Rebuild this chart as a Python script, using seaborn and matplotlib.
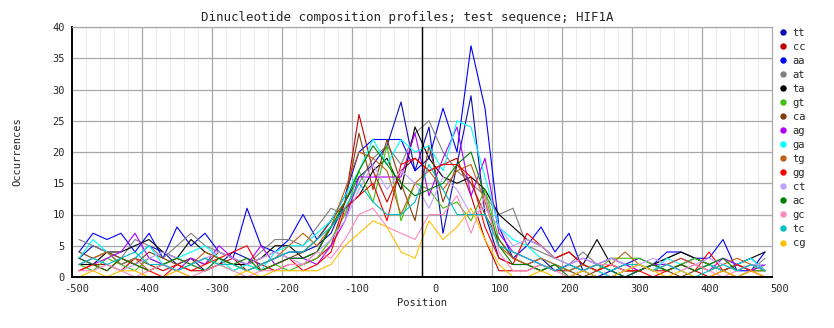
import numpy as np
import pandas as pd
import matplotlib
matplotlib.use("Agg")
import matplotlib.pyplot as plt
import matplotlib.transforms as mtransforms
from matplotlib.lines import Line2D
import seaborn as sns

# ---------------- data ----------------
positions = list(range(-490, 491, 20))  # 50 window centres

dinucs = ["tt", "cc", "aa", "at", "ta", "gt", "ca", "ag",
          "ga", "tg", "gg", "ct", "ac", "gc", "tc", "cg"]

colors = ["#0c0cb4", "#c00000", "#0000ff", "#808080", "#000000", "#40c010",
          "#804010", "#b000ff", "#00ffff", "#c06010", "#ff0000", "#c0a0ff",
          "#008000", "#ff88c0", "#00c0c0", "#ffc000"]

tt = [3, 5, 4, 2, 3, 5, 4, 2, 3, 1, 2, 4, 3, 2, 3, 4,
      4, 5, 7, 12, 16, 18, 21, 28, 17, 24, 7, 18, 29, 10, 3, 2,
      2, 3, 1, 2, 1, 0, 1, 2, 3, 2, 1, 2, 3, 2, 1, 2, 3, 1]
cc = [1, 2, 2, 1, 3, 2, 1, 2, 1, 1, 2, 3, 1, 2, 1, 2,
      2, 3, 5, 12, 26, 17, 12, 17, 19, 17, 18, 19, 13, 6, 1, 1,
      1, 2, 1, 1, 2, 1, 0, 1, 2, 1, 1, 2, 1, 0, 1, 2, 1, 1]
aa = [4, 7, 6, 7, 4, 7, 3, 8, 5, 7, 4, 3, 11, 5, 4, 6,
      10, 6, 9, 13, 20, 22, 22, 22, 17, 19, 27, 20, 37, 27, 8, 3,
      5, 8, 4, 7, 1, 2, 1, 0, 1, 2, 4, 4, 3, 3, 6, 1, 1, 4]
at = [6, 5, 4, 3, 6, 5, 3, 5, 7, 5, 4, 3, 2, 4, 6, 6,
      5, 8, 11, 10, 15, 19, 21, 18, 23, 25, 20, 17, 15, 13, 10, 11,
      5, 4, 3, 2, 4, 2, 3, 2, 1, 2, 3, 4, 3, 2, 3, 2, 1, 3]
ta = [2, 2, 4, 4, 5, 6, 4, 3, 6, 4, 3, 2, 2, 3, 5, 5,
      3, 4, 8, 11, 13, 17, 19, 14, 24, 19, 16, 15, 16, 14, 10, 8,
      6, 5, 3, 4, 2, 6, 2, 1, 1, 2, 3, 4, 3, 2, 1, 2, 3, 4]
gt = [2, 1, 3, 2, 1, 3, 2, 1, 2, 3, 2, 1, 2, 1, 2, 1,
      2, 3, 6, 10, 17, 12, 21, 9, 15, 14, 11, 12, 9, 14, 6, 3,
      2, 1, 2, 1, 2, 1, 3, 3, 3, 2, 1, 2, 3, 2, 1, 2, 1, 1]
ca = [4, 3, 4, 3, 2, 4, 3, 2, 3, 2, 4, 3, 2, 3, 4, 3,
      4, 6, 9, 12, 23, 14, 22, 15, 9, 21, 12, 18, 15, 10, 6, 3,
      2, 1, 2, 1, 0, 1, 2, 1, 1, 2, 1, 0, 1, 2, 1, 0, 1, 2]
ag = [3, 2, 3, 4, 7, 3, 2, 1, 3, 2, 5, 3, 2, 5, 2, 3,
      3, 2, 5, 9, 16, 16, 16, 16, 23, 13, 19, 24, 13, 19, 7, 4,
      3, 2, 1, 2, 3, 2, 3, 2, 1, 2, 2, 3, 2, 1, 3, 2, 1, 2]
ga = [3, 6, 4, 2, 3, 5, 2, 3, 4, 5, 3, 1, 2, 1, 4, 5,
      5, 7, 9, 13, 17, 22, 18, 22, 20, 21, 17, 25, 24, 16, 8, 6,
      5, 3, 2, 1, 2, 1, 0, 1, 2, 1, 3, 2, 1, 2, 1, 2, 3, 1]
tg = [2, 3, 4, 2, 3, 1, 2, 3, 2, 4, 3, 2, 1, 2, 3, 5,
      7, 5, 8, 14, 20, 19, 17, 10, 15, 17, 14, 17, 18, 12, 5, 3,
      2, 3, 2, 1, 2, 1, 2, 4, 2, 1, 2, 3, 2, 1, 2, 3, 2, 1]
gg = [1, 2, 1, 3, 2, 1, 0, 2, 1, 2, 3, 4, 5, 1, 2, 3,
      1, 2, 4, 11, 13, 15, 9, 18, 19, 17, 18, 18, 16, 8, 3, 2,
      7, 5, 3, 4, 2, 1, 2, 1, 1, 0, 1, 2, 1, 4, 1, 2, 1, 0]
ct = [2, 3, 2, 1, 2, 3, 4, 3, 2, 3, 4, 3, 2, 3, 4, 3,
      2, 4, 6, 9, 14, 18, 14, 17, 15, 11, 16, 14, 10, 11, 8, 5,
      6, 5, 3, 2, 3, 2, 3, 2, 2, 3, 2, 1, 2, 3, 2, 1, 2, 2]
ac = [3, 2, 1, 3, 2, 1, 2, 3, 2, 1, 3, 2, 3, 1, 2, 3,
      3, 4, 8, 12, 17, 21, 18, 15, 13, 14, 15, 18, 20, 13, 5, 2,
      2, 1, 2, 0, 1, 2, 1, 0, 1, 2, 1, 2, 1, 2, 3, 1, 2, 1]
gc = [1, 1, 2, 1, 0, 1, 2, 1, 0, 1, 2, 1, 0, 1, 1, 2,
      2, 4, 3, 6, 10, 11, 8, 7, 6, 10, 10, 13, 7, 13, 4, 1,
      1, 2, 1, 0, 1, 2, 2, 1, 2, 1, 2, 1, 2, 1, 0, 1, 2, 1]
tc = [2, 3, 2, 3, 4, 2, 2, 1, 2, 3, 2, 2, 1, 2, 3, 4,
      4, 6, 8, 11, 15, 12, 10, 10, 12, 18, 14, 10, 10, 10, 5, 4,
      3, 2, 1, 2, 1, 2, 1, 2, 2, 1, 2, 1, 0, 1, 2, 1, 2, 1]
cg = [0, 1, 0, 1, 1, 0, 0, 1, 0, 0, 0, 0, 1, 0, 1, 1,
      1, 1, 2, 5, 7, 9, 8, 4, 3, 9, 6, 8, 11, 6, 2, 0,
      0, 1, 0, 0, 1, 0, 0, 1, 2, 1, 0, 1, 0, 0, 1, 0, 1, 0]

series = [tt, cc, aa, at, ta, gt, ca, ag, ga, tg, gg, ct, ac, gc, tc, cg]

x_ticks = list(range(-500, 501, 100))
y_ticks = list(range(0, 41, 5))

title = "Dinucleotide composition profiles; test sequence; HIF1A"

# ---------------- figure ----------------
W, H = 834, 328
DPI = 100
sns.set_style("white")
plt.rcParams["font.family"] = ["DejaVu Sans Mono"]

fig = plt.figure(figsize=(W / DPI, H / DPI), dpi=DPI)
L, R, T, B = 72, 772, 27, 277
ax = fig.add_axes([L / W, 1 - B / H, (R - L) / W, (B - T) / H])

df = pd.DataFrame({
    "Position": np.tile(positions, len(dinucs)),
    "Occurrences": np.concatenate([np.array(s, dtype=float) for s in series]),
    "dinuc": np.repeat(dinucs, len(positions)),
})
palette = dict(zip(dinucs, colors))

# grid
for xv in range(-500, 501, 20):
    if xv % 100 != 0:
        ax.axvline(xv, color="#ececec", lw=0.75, zorder=0)
for xv in x_ticks[1:-1]:
    ax.axvline(xv, color="#a8a8a8", lw=0.9, zorder=0.5)
for yv in y_ticks[1:]:
    ax.axhline(yv, color="#a8a8a8", lw=0.9, zorder=0.5)

sns.lineplot(data=df, x="Position", y="Occurrences", hue="dinuc",
             hue_order=dinucs, palette=palette, lw=0.8, legend=False,
             ax=ax, zorder=2)

ax.axvline(0, color="black", lw=1.0, zorder=3)

ax.set_xlim(-500, 500)
ax.set_ylim(0, 40)
ax.set_xticks(x_ticks)
ax.set_yticks(y_ticks)
ax.set_xticklabels([str(v) for v in x_ticks], fontsize=7.5, ha="right")
ax.set_yticklabels([str(v) for v in y_ticks], fontsize=7.5)
ax.tick_params(axis="both", length=0, pad=5)
offset = mtransforms.ScaledTranslation(17 / DPI, 0, fig.dpi_scale_trans)
for lab in ax.get_xticklabels():
    lab.set_transform(lab.get_transform() + offset)

for side in ["left", "bottom"]:
    ax.spines[side].set_color("black")
    ax.spines[side].set_linewidth(1.4)
for side in ["top", "right"]:
    ax.spines[side].set_color("#a8a8a8")
    ax.spines[side].set_linewidth(0.9)

ax.set_xlabel("")
ax.set_ylabel("")
fig.text(421.5 / W, 1 - 303 / H, "Position", fontsize=7.5,
         ha="center", va="center")
fig.text(17 / W, 1 - 152 / H, "Occurrences", fontsize=7.5, rotation=90,
         ha="center", va="center")
fig.text(407 / W, 1 - 18 / H, title, fontsize=9, ha="center", va="center")

handles = [Line2D([], [], ls="none", marker="o", markersize=4.6,
                  color=c, markeredgewidth=0) for c in colors]
leg = fig.legend(handles, dinucs, loc="upper left",
                 bbox_to_anchor=(779 / W, 1 - 28 / H), frameon=False,
                 fontsize=7.5, handlelength=0.8, handletextpad=0.5,
                 labelspacing=0.385, borderpad=0, borderaxespad=0)

fig.savefig("out.png", dpi=DPI)
